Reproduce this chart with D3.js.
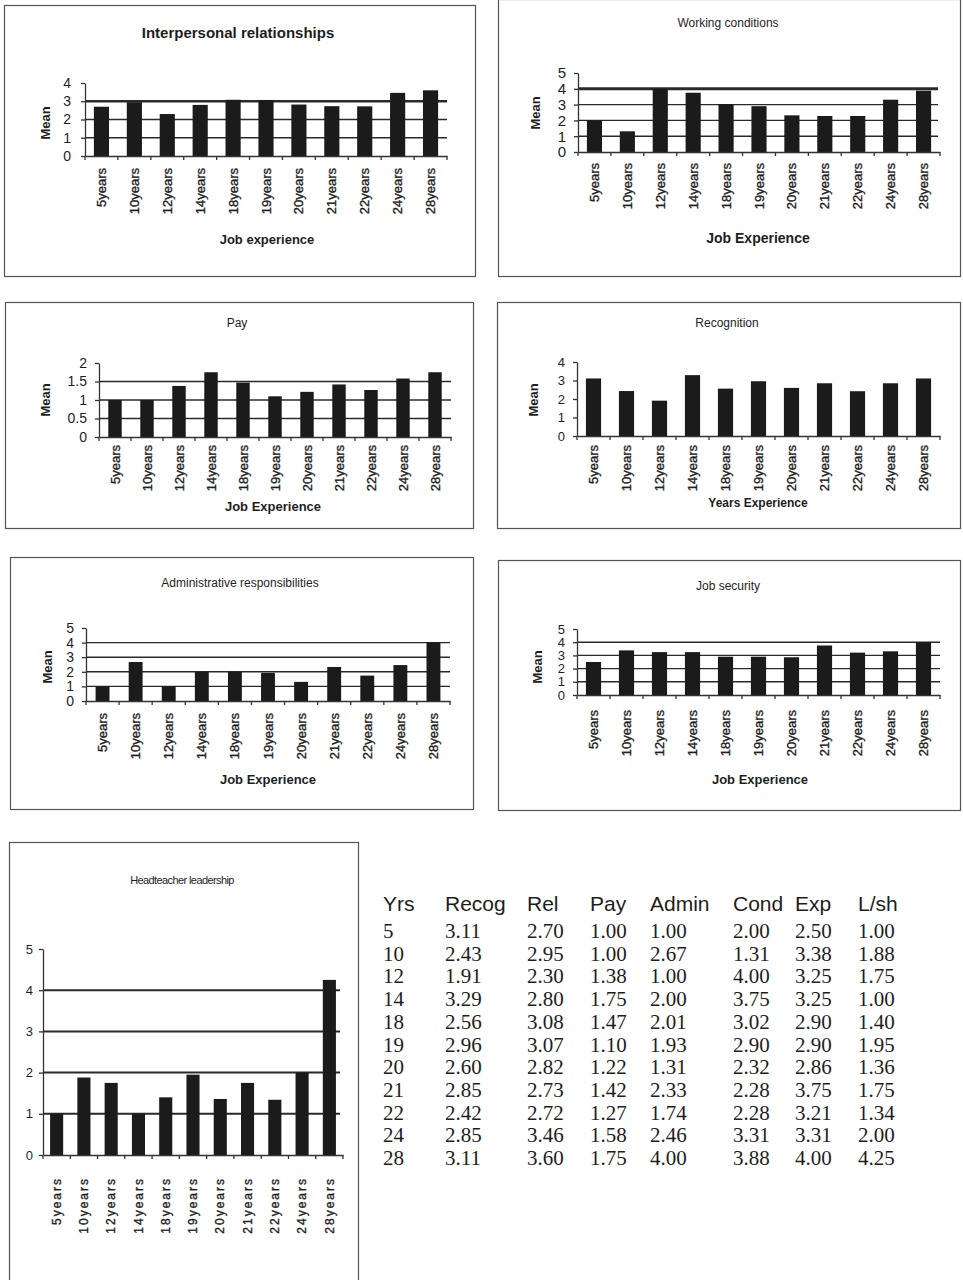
<!DOCTYPE html>
<html>
<head>
<meta charset="utf-8">
<script src="https://cdn.jsdelivr.net/npm/d3@7/dist/d3.min.js"></script>
<style>
  html, body { margin: 0; padding: 0; background: #fff; }
  svg { display: block; }
  text { fill: #1e1e1e; }
</style>
</head>
<body>
<svg id="page" width="963" height="1280"></svg>
<script>
// Years of teaching experience (categories shared by every chart)
const years = [5, 10, 12, 14, 18, 19, 20, 21, 22, 24, 28];
const categories = years.map(y => y + "years");

// Mean scores per factor
const recog = [3.11, 2.43, 1.91, 3.29, 2.56, 2.96, 2.60, 2.85, 2.42, 2.85, 3.11];
const rel   = [2.70, 2.95, 2.30, 2.80, 3.08, 3.07, 2.82, 2.73, 2.72, 3.46, 3.60];
const pay   = [1.00, 1.00, 1.38, 1.75, 1.47, 1.10, 1.22, 1.42, 1.27, 1.58, 1.75];
const admin = [1.00, 2.67, 1.00, 2.00, 2.01, 1.93, 1.31, 2.33, 1.74, 2.46, 4.00];
const cond  = [2.00, 1.31, 4.00, 3.75, 3.02, 2.90, 2.32, 2.28, 2.28, 3.31, 3.88];
const exp   = [2.50, 3.38, 3.25, 3.25, 2.90, 2.90, 2.86, 3.75, 3.21, 3.31, 4.00];
const lsh   = [1.00, 1.88, 1.75, 1.00, 1.40, 1.95, 1.36, 1.75, 1.34, 2.00, 4.25];

// Summary table headings
const tableHeaders = ["Yrs", "Recog", "Rel", "Pay", "Admin", "Cond", "Exp", "L/sh"];

// Y-axis tick values
const ticks4 = [0, 1, 2, 3, 4];
const ticks5 = [0, 1, 2, 3, 4, 5];
const ticksPay = [0, 0.5, 1, 1.5, 2];

const svg = d3.select("#page");
const SANS = "'Liberation Sans', Arial, sans-serif";
const SERIF = "'Liberation Serif', 'Times New Roman', serif";
const INK = "#1b1b1b";

function drawChart(o) {
  const g = svg.append("g");

  // frame
  g.append("rect")
    .attr("x", o.box[0] + 0.5).attr("y", o.box[1] + 0.5)
    .attr("width", o.box[2]).attr("height", o.box[3])
    .attr("fill", "none").attr("stroke", "#555").attr("stroke-width", 1.2);

  // title
  g.append("text")
    .attr("x", o.titleX).attr("y", o.titleY)
    .attr("text-anchor", "middle")
    .style("font-family", SANS)
    .style("font-size", o.titleSize + "px")
    .style("font-weight", o.titleBold ? "bold" : "normal")
    .style("letter-spacing", (o.titleSpacing || 0) + "px")
    .text(o.title);

  const x = d3.scaleBand().domain(categories).range([o.x0, o.x1]).paddingInner(0).paddingOuter(0);
  const y = d3.scaleLinear().domain([0, o.max]).range([o.yZero, o.yTop]);

  // horizontal gridlines
  g.append("g").selectAll("line").data(o.grid).join("line")
    .attr("x1", o.x0).attr("x2", o.gridEnd || o.x1)
    .attr("y1", d => y(d)).attr("y2", d => y(d))
    .attr("stroke", "#2a2a2a")
    .attr("stroke-width", d => (o.thick || []).includes(d) ? (o.thickW || 2.6) : (o.gridW || 1.4));

  // bars
  const bw = x.bandwidth() * o.barFrac;
  g.append("g").selectAll("rect").data(o.values).join("rect")
    .attr("x", (d, i) => x(categories[i]) + (x.bandwidth() - bw) / 2)
    .attr("y", d => y(d))
    .attr("width", bw)
    .attr("height", d => o.yZero - y(d))
    .attr("fill", INK);

  // y axis
  const yAxis = g.append("g")
    .attr("transform", `translate(${o.x0},0)`)
    .call(d3.axisLeft(y).tickValues(o.ticks).tickSize(4).tickSizeOuter(0)
      .tickPadding(o.tickPad || 8).tickFormat(d3.format("~g")));
  yAxis.select(".domain").attr("stroke", "#333").attr("stroke-width", 1.3);
  yAxis.selectAll(".tick line").attr("stroke", "#333").attr("stroke-width", 1.3);
  yAxis.selectAll(".tick text")
    .style("font-family", SANS).style("font-size", (o.tickSize || 14) + "px")
    .attr("fill", "#222");

  // x axis: baseline, tick marks between categories, rotated labels
  const xAxis = g.append("g")
    .attr("transform", `translate(0,${o.yZero})`)
    .call(d3.axisBottom(x).tickSize(0).tickPadding(0).tickSizeOuter(0));
  xAxis.select(".domain").attr("stroke", "#333").attr("stroke-width", 1.3);
  const edges = categories.map(c => x(c)).concat([o.x1]);
  xAxis.append("g").selectAll("line").data(edges).join("line")
    .attr("x1", d => d).attr("x2", d => d)
    .attr("y1", 0).attr("y2", 4)
    .attr("stroke", "#333").attr("stroke-width", 1.3);
  xAxis.selectAll(".tick text")
    .style("font-family", SANS)
    .style("font-size", (o.labelSize || 13) + "px")
    .style("letter-spacing", (o.labelSpacing || 0) + "px")
    .attr("fill", "#222")
    .attr("stroke", "#222").attr("stroke-width", 0.35)
    .attr("text-anchor", "end")
    .attr("dy", "0.35em")
    .attr("y", 0)
    .attr("transform", `translate(0,${o.labelTop - o.yZero}) rotate(-90)`);

  // axis titles
  if (o.xTitle) {
    g.append("text")
      .attr("x", o.xTitleX).attr("y", o.xTitleY)
      .attr("text-anchor", "middle")
      .style("font-family", SANS).style("font-size", (o.xTitleSize || 13) + "px")
      .style("font-weight", "bold")
      .text(o.xTitle);
  }
  if (o.yTitle) {
    g.append("text")
      .attr("transform", `translate(${o.yTitleX},${o.yTitleY}) rotate(-90)`)
      .attr("text-anchor", "middle")
      .attr("dy", "0.35em")
      .style("font-family", SANS).style("font-size", "13px")
      .style("font-weight", "bold")
      .text(o.yTitle);
  }
}

// Interpersonal relationships
drawChart({
  box: [4, 5, 471, 271], title: "Interpersonal relationships", titleBold: true, titleSize: 15,
  titleX: 238, titleY: 38,
  x0: 85, x1: 447, yZero: 156, yTop: 83, max: 4, ticks: ticks4,
  grid: [1, 2, 3], thick: [3], values: rel, barFrac: 0.46,
  labelTop: 168, xTitle: "Job experience", xTitleX: 267, xTitleY: 244,
  yTitle: "Mean", yTitleX: 45, yTitleY: 123, tickPad: 10
});

// Working conditions
drawChart({
  box: [498, -1, 462, 277], title: "Working conditions", titleSize: 12,
  titleX: 728, titleY: 27,
  x0: 578, x1: 940, yZero: 152, yTop: 73, max: 5, ticks: ticks5,
  grid: [1, 2, 3, 4], thick: [4], thickW: 3, gridEnd: 938, values: cond, barFrac: 0.46,
  labelTop: 163, xTitle: "Job Experience", xTitleSize: 14, xTitleX: 758, xTitleY: 243,
  yTitle: "Mean", yTitleX: 535, yTitleY: 113, tickPad: 8, tickSize: 15
});

// Pay
drawChart({
  box: [5, 302, 468, 226], title: "Pay", titleSize: 12,
  titleX: 237, titleY: 327,
  x0: 99, x1: 451, yZero: 437, yTop: 363, max: 2, ticks: ticksPay,
  grid: [0.5, 1, 1.5], thick: [], values: pay, barFrac: 0.42,
  labelTop: 445, xTitle: "Job Experience", xTitleX: 273, xTitleY: 511,
  yTitle: "Mean", yTitleX: 45, yTitleY: 400, tickPad: 8
});

// Recognition
drawChart({
  box: [497, 302, 463, 226], title: "Recognition", titleSize: 12,
  titleX: 727, titleY: 327,
  x0: 577, x1: 940, yZero: 436, yTop: 362, max: 4, ticks: ticks4,
  grid: [], values: recog, barFrac: 0.46,
  labelTop: 445, xTitle: "Years Experience", xTitleSize: 12, xTitleX: 758, xTitleY: 507,
  yTitle: "Mean", yTitleX: 533, yTitleY: 400, tickPad: 8, tickSize: 13
});

// Administrative responsibilities
drawChart({
  box: [10, 557, 463, 252], title: "Administrative responsibilities", titleSize: 12,
  titleX: 240, titleY: 587,
  x0: 86, x1: 450, yZero: 701, yTop: 628, max: 5, ticks: ticks5,
  grid: [1, 2, 3, 4], thick: [], gridW: 1.4, values: admin, barFrac: 0.42,
  labelTop: 713, xTitle: "Job Experience", xTitleX: 268, xTitleY: 784,
  yTitle: "Mean", yTitleX: 47, yTitleY: 667, tickPad: 8, tickSize: 14
});

// Job security
drawChart({
  box: [498, 560, 462, 250], title: "Job security", titleSize: 12,
  titleX: 728, titleY: 590,
  x0: 577, x1: 940, yZero: 695, yTop: 629, max: 5, ticks: ticks5,
  grid: [1, 2, 3, 4], thick: [], values: exp, barFrac: 0.46,
  labelTop: 710, xTitle: "Job Experience", xTitleX: 760, xTitleY: 784,
  yTitle: "Mean", yTitleX: 537, yTitleY: 667, tickPad: 8, tickSize: 13
});

// Headteacher leadership
drawChart({
  box: [9, 842, 349, 460], title: "Headteacher leadership", titleSize: 11, titleSpacing: -0.6,
  titleX: 182, titleY: 884,
  x0: 43, x1: 343, yZero: 1155, yTop: 949, max: 5, ticks: ticks5,
  grid: [1, 2, 3, 4], thick: [], gridW: 2, gridEnd: 340, values: lsh, barFrac: 0.48,
  labelTop: 1177, labelSize: 12, labelSpacing: 2, tickPad: 6, tickSize: 13
});

// Summary table of means
const colX = [383, 445, 527, 590, 650, 733, 795, 858];
const rowY0 = 938, rowStep = 22.7;
const table = svg.append("g");
table.append("g").selectAll("text").data(tableHeaders).join("text")
  .attr("x", (d, i) => colX[i]).attr("y", 911)
  .style("font-family", SANS).style("font-size", "21px")
  .attr("fill", "#222")
  .text(d => d);

const columns = [recog, rel, pay, admin, cond, exp, lsh];
const rows = years.map((yr, r) => [String(yr)].concat(columns.map(c => c[r].toFixed(2))));
const rowG = table.append("g").selectAll("g").data(rows).join("g")
  .attr("transform", (d, r) => `translate(0,${rowY0 + r * rowStep})`);
rowG.selectAll("text").data(d => d).join("text")
  .attr("x", (d, i) => colX[i]).attr("y", 0)
  .style("font-family", SERIF).style("font-size", "21px")
  .attr("fill", "#222")
  .text(d => d);
</script>
</body>
</html>
